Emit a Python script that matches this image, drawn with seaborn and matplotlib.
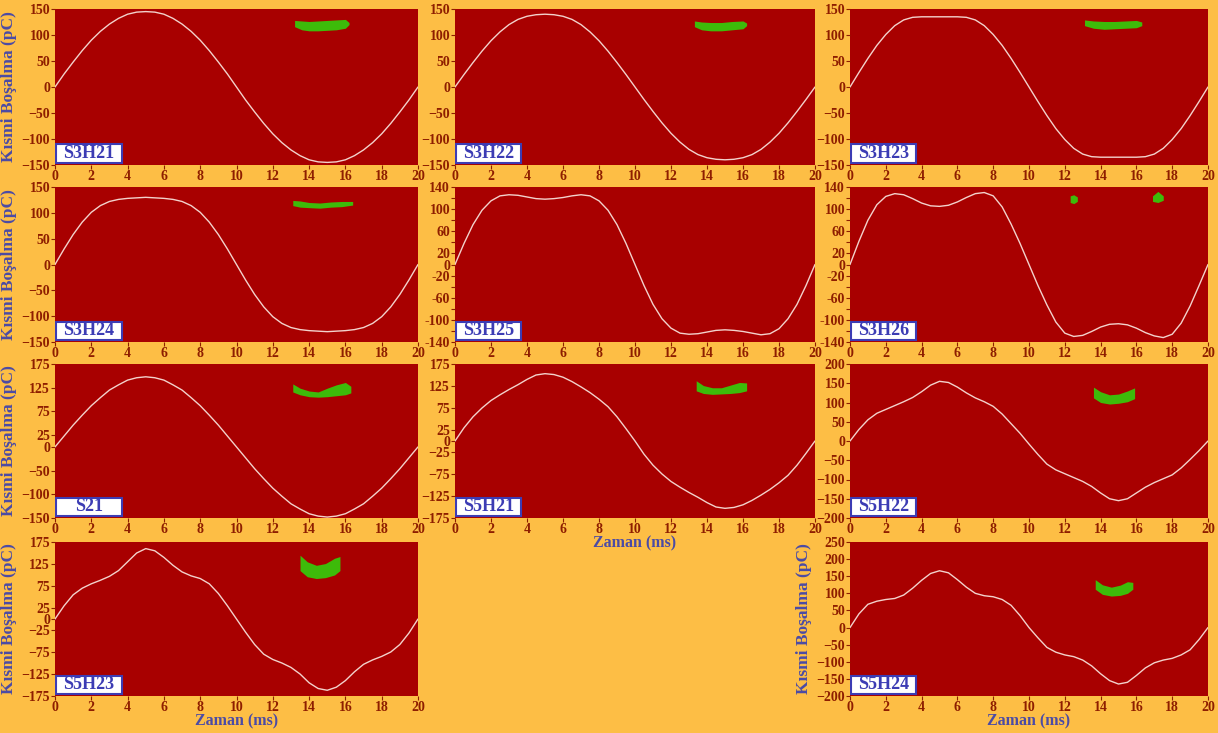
import matplotlib
matplotlib.use('Agg')
import matplotlib.pyplot as plt
from matplotlib.patches import Rectangle
import numpy as np
import pandas as pd
import seaborn as sns

# time axis (ms), one value every 0.5 ms
zaman = [i * 0.5 for i in range(41)]

# partial discharge phase curve (pC)
s3h21 = [0, 25, 48, 70, 90, 107, 121, 132, 140, 144, 145, 144, 140, 132, 121, 107, 90, 70, 48, 25, 0,
         -25, -48, -70, -90, -107, -121, -132, -140, -144, -145, -144, -140, -132, -121, -107, -90, -70, -48, -25, 0]
s3h22 = [0, 24, 47, 69, 89, 106, 120, 130, 136, 139, 140, 139, 136, 130, 120, 106, 89, 69, 47, 24, 0,
         -24, -47, -69, -89, -106, -120, -130, -136, -139, -140, -139, -136, -130, -120, -106, -89, -69, -47, -24, 0]
s3h23 = [0, 28, 55, 80, 101, 118, 129, 134, 135, 135, 135, 135, 135, 134, 129, 118, 101, 80, 55, 28, 0,
         -28, -55, -80, -101, -118, -129, -134, -135, -135, -135, -135, -135, -134, -129, -118, -101, -80, -55, -28, 0]
s3h24 = [0, 30, 58, 82, 101, 114, 122, 126, 128, 129, 130, 129, 128, 126, 122, 114, 101, 82, 58, 30, 0,
         -30, -58, -82, -101, -114, -122, -126, -128, -129, -130, -129, -128, -126, -122, -114, -101, -82, -58, -30, 0]
s3h25 = [0, 38, 72, 98, 115, 124, 126, 125, 122, 119, 118, 119, 121, 124, 126, 124, 115, 98, 72, 38, 0,
         -38, -72, -98, -115, -124, -126, -125, -122, -119, -118, -119, -121, -124, -127, -125, -116, -98, -72, -38, 0]
s3h26 = [0, 42, 80, 108, 123, 128, 126, 119, 111, 106, 105, 107, 113, 121, 128, 130, 124, 104, 73, 38, 0,
         -38, -73, -104, -124, -130, -128, -121, -113, -108, -107, -109, -115, -123, -129, -132, -126, -106, -75, -38, 0]
s21 = [0, 23, 46, 67, 87, 104, 120, 131, 141, 146, 148, 146, 141, 131, 120, 104, 87, 67, 46, 23, 0,
       -23, -46, -67, -87, -104, -120, -131, -141, -146, -148, -146, -141, -131, -120, -104, -87, -67, -46, -23, 0]
s5h21 = [0, 30, 55, 75, 92, 105, 117, 128, 140, 150, 153, 151, 145, 135, 123, 110, 95, 78, 55, 28, 0,
         -30, -55, -75, -92, -105, -117, -128, -140, -150, -153, -151, -145, -135, -123, -110, -95, -78, -55, -28, 0]
s5h22 = [0, 30, 55, 72, 82, 92, 102, 113, 128, 145, 155, 152, 140, 125, 112, 102, 90, 70, 45, 20, -8,
         -35, -60, -75, -85, -95, -105, -118, -135, -150, -155, -150, -135, -120, -108, -98, -88, -70, -48, -25, 0]
s5h23 = [0, 30, 55, 70, 80, 88, 97, 110, 130, 150, 160, 155, 140, 122, 107, 98, 92, 80, 58, 30, 0,
         -30, -58, -80, -92, -100, -110, -125, -145, -158, -162, -155, -140, -120, -103, -93, -85, -75, -58, -32, 0]
s5h24 = [0, 40, 68, 77, 82, 85, 95, 115, 138, 158, 166, 160, 140, 118, 100, 93, 90, 82, 65, 35, 0,
         -30, -58, -72, -80, -85, -95, -112, -135, -155, -165, -160, -140, -118, -103, -95, -90, -80, -65, -35, 0]

# green PD pulse clusters: (x, lower, upper)
pd_s3h21 = ([13.2, 13.6, 14.0, 14.5, 15.0, 15.5, 16.0, 16.2], [116, 110, 108, 108, 109, 110, 113, 120], [128, 127, 126, 127, 128, 129, 130, 124])
pd_s3h22 = ([13.3, 13.7, 14.2, 14.8, 15.4, 16.0, 16.2], [116, 110, 108, 108, 110, 112, 118], [127, 125, 124, 124, 126, 127, 123])
pd_s3h23 = ([13.1, 13.6, 14.2, 14.8, 15.4, 16.0, 16.3], [118, 113, 111, 112, 113, 114, 118], [129, 127, 126, 126, 127, 128, 125])
pd_s3h24 = ([13.1, 13.5, 14.0, 14.6, 15.2, 15.8, 16.4], [114, 111, 110, 109, 111, 112, 115], [124, 123, 120, 119, 121, 122, 122])
pd_s3h25 = ([], [], [])
pd_s3h26 = ([12.3, 12.5, 12.7, 16.9, 17.2, 17.5], [112, 110, 114, 114, 112, 116], [124, 126, 122, 124, 132, 124])
pd_s21 = ([13.1, 13.5, 14.0, 14.5, 15.0, 15.5, 16.0, 16.3], [116, 110, 106, 105, 106, 108, 110, 114], [133, 124, 118, 116, 124, 131, 136, 128])
pd_s5h21 = ([13.4, 13.8, 14.3, 14.8, 15.3, 15.8, 16.2], [114, 108, 106, 107, 108, 110, 114], [137, 126, 121, 121, 127, 133, 132])
pd_s5h22 = ([13.6, 14.0, 14.5, 15.0, 15.5, 15.9], [112, 100, 96, 98, 102, 110], [140, 128, 120, 122, 130, 138])
pd_s5h23 = ([13.5, 13.9, 14.4, 14.9, 15.4, 15.7], [110, 96, 92, 94, 100, 110], [145, 130, 122, 126, 138, 142])
pd_s5h24 = ([13.7, 14.1, 14.6, 15.1, 15.5, 15.8], [112, 97, 92, 94, 100, 112], [140, 125, 118, 124, 134, 132])

names = ['S3H21', 'S3H22', 'S3H23', 'S3H24', 'S3H25', 'S3H26', 'S21', 'S5H21', 'S5H22', 'S5H23', 'S5H24']
curves = [s3h21, s3h22, s3h23, s3h24, s3h25, s3h26, s21, s5h21, s5h22, s5h23, s5h24]
pulses = [pd_s3h21, pd_s3h22, pd_s3h23, pd_s3h24, pd_s3h25, pd_s3h26, pd_s21, pd_s5h21, pd_s5h22, pd_s5h23, pd_s5h24]

# y limits, tick positions, labelled ticks
ylims = [(-150, 150)] * 4 + [(-140, 140)] * 2 + [(-150, 175), (-175, 175), (-200, 200), (-175, 175), (-200, 250)]
yticks = [list(range(-150, 151, 50))] * 4 + [list(range(-140, 141, 20))] * 2 + \
    [[-150, -100, -50, 0, 25, 75, 125, 175], [-175, -125, -75, -25, 0, 25, 75, 125, 175],
     list(range(-200, 201, 50)), [-175, -125, -75, -25, 0, 25, 75, 125, 175], list(range(-200, 251, 50))]
ylabels140 = [-140, -100, -60, -20, 0, 20, 60, 100, 140]

# grid slot (row, col) of each panel
slots = [(0, 0), (0, 1), (0, 2), (1, 0), (1, 1), (1, 2), (2, 0), (2, 1), (2, 2), (3, 0), (3, 2)]
ylab_panels = ['S3H21', 'S3H24', 'S21', 'S5H23', 'S5H24']
xlab_panels = ['S5H21', 'S5H23', 'S5H24']

ORANGE = '#FDBE45'
DARKRED = '#A80000'
TICK = '#8E1E00'
BLUE = '#4B4BA5'

sns.set_style(style='white')
plt.rcParams['font.family'] = ['Liberation Serif', 'DejaVu Serif']
plt.rcParams['font.weight'] = 'bold'

W, H = 1218, 733
fig = plt.figure(figsize=(W / 100, H / 100), dpi=100, facecolor=ORANGE)

col_x = [(55, 418), (455, 815), (850, 1208)]
row_y = [(9, 165), (187, 342), (364, 518), (542, 696)]

for name, y, pulse, ylim, yt, (r, c) in zip(names, curves, pulses, ylims, yticks, slots):
    x0, x1 = col_x[c]
    y0, y1 = row_y[r]
    ax = fig.add_axes([x0 / W, 1 - y1 / H, (x1 - x0) / W, (y1 - y0) / H])
    ax.set_facecolor(DARKRED)
    for s in ax.spines.values():
        s.set_visible(False)

    if len(pulse[0]):
        px, lo, hi = pulse
        # split clusters where x jumps
        idx = [0] + [i for i in range(1, len(px)) if px[i] - px[i - 1] > 1] + [len(px)]
        for a, b in zip(idx[:-1], idx[1:]):
            ax.fill_between(px[a:b], lo[a:b], hi[a:b], color='#3DBB0A', lw=0, zorder=2)

    df = pd.DataFrame({'t': zaman, 'q': y})
    sns.lineplot(data=df, x='t', y='q', ax=ax, color='#F3D2CC', lw=1.0, zorder=3)

    ax.set_xlim(0, 20)
    ax.set_ylim(*ylim)
    ax.set_xticks(range(0, 21, 2))
    ax.set_yticks(yt)
    if ylim == (-140, 140):
        ax.set_yticklabels([str(v) if v in ylabels140 else '' for v in yt])
    ax.tick_params(axis='both', colors=TICK, labelsize=10, length=3, width=0.8, pad=0.5,
                   bottom=True, left=True, direction='out')
    for lab in ax.get_xticklabels() + ax.get_yticklabels():
        lab.set_fontweight('bold')

    if name in xlab_panels:
        ax.set_xlabel('Zaman (ms)', color=BLUE, fontsize=11.5, fontweight='bold', labelpad=0)
    else:
        ax.set_xlabel('')
    ax.set_ylabel('Kısmi Boşalma (pC)' if name in ylab_panels else '', color=BLUE, fontsize=12.5,
                  fontweight='bold', labelpad=3)

    ax.add_patch(Rectangle((0.004, 0.012), 0.18, 0.12, transform=ax.transAxes, facecolor='white',
                           edgecolor='#3C3CB4', lw=1.5, zorder=5))
    ax.text(0.094, 0.072, name, transform=ax.transAxes, ha='center', va='center', color='#3C3CB4',
            fontsize=13, fontweight='bold', zorder=6)

fig.savefig('out.png', dpi=100, facecolor=ORANGE)
